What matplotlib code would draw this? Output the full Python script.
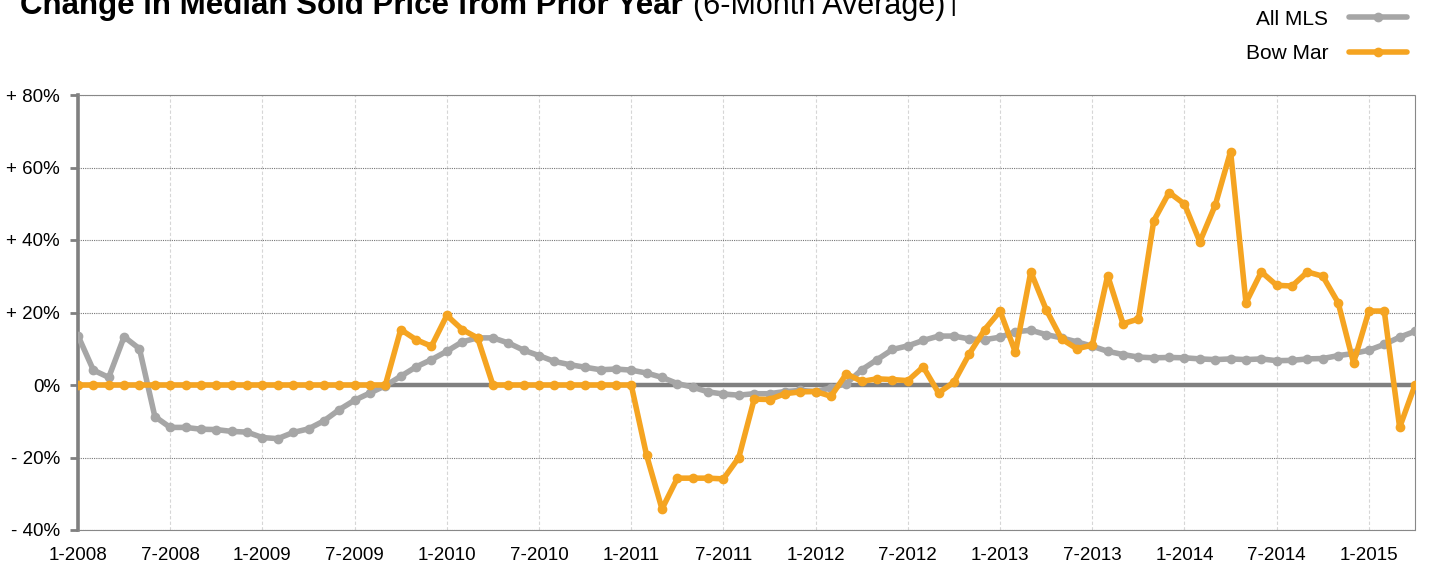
import matplotlib
matplotlib.use("Agg")
from matplotlib import pyplot as plt

plt.rcParams["font.family"] = ["Liberation Sans", "DejaVu Sans"]

# monthly data, 1-2008 .. 4-2015
all_mls = [13.6, 4.1, 2.1, 13.3, 10.0, -8.7, -11.7, -11.7, -12.2, -12.3,
           -12.8, -13.0, -14.5, -14.8, -13.1, -12.1, -9.9, -6.8, -4.2, -2.2,
           -0.2, 2.4, 5.0, 7.0, 9.3, 11.9, 13.0, 13.0, 11.6, 9.6,
           8.1, 6.5, 5.6, 4.9, 4.2, 4.4, 4.1, 3.3, 2.1, 0.4,
           -0.6, -1.9, -2.5, -2.8, -2.4, -2.4, -1.8, -1.5, -1.8, -0.8,
           0.4, 4.2, 7.0, 9.8, 10.8, 12.3, 13.5, 13.5, 12.7, 12.5,
           13.2, 14.7, 15.1, 13.9, 13.0, 11.9, 10.7, 9.3, 8.4, 7.7,
           7.5, 7.6, 7.5, 7.2, 7.0, 7.2, 7.0, 7.2, 6.7, 6.8,
           7.2, 7.3, 8.1, 8.7, 9.6, 11.2, 13.2, 14.8]
bow_mar = [0] * 21 + [15.3, 12.5, 10.7, 19.2, 15.3, 13.0, 0, 0, 0,
           0, 0, 0, 0, 0, 0, 0, -19.4, -34.2, -25.7,
           -25.7, -25.7, -25.9, -20.0, -3.9, -4.0, -2.4, -1.9, -1.8, -3.1,
           3.1, 1.0, 1.7, 1.5, 1.2, 5.0, -2.2, 0.8, 8.6, 15.3,
           20.4, 9.0, 31.2, 20.8, 12.7, 10.0, 11.0, 30.2, 16.9, 18.2,
           45.3, 53.1, 49.9, 39.5, 49.6, 64.4, 22.7, 31.2, 27.5, 27.3,
           31.2, 30.0, 22.7, 6.1, 20.4, 20.4, -11.7, 0]
months = list(range(len(all_mls)))
tick_labels = ["1-2008", "7-2008", "1-2009", "7-2009", "1-2010", "7-2010",
               "1-2011", "7-2011", "1-2012", "7-2012", "1-2013", "7-2013",
               "1-2014", "7-2014", "1-2015"]
y_ticks = [-40, -20, 0, 20, 40, 60, 80]
y_labels = ["- 40%", "- 20%", "0%", "+ 20%", "+ 40%", "+ 60%", "+ 80%"]

gray = "#a6a6a6"
orange = "#f5a421"

fig = plt.figure(figsize=(14.29, 5.63), dpi=100)
ax = fig.add_axes([78 / 1429, 33 / 563, (1415 - 78) / 1429, (530 - 95) / 563])

ax.axhline(0, color="#808080", lw=3.2, zorder=2)
ax.plot(months, all_mls, color=gray, lw=4, marker="o", ms=6,
        solid_capstyle="round", zorder=3, label="All MLS")
ax.plot(months, bow_mar, color=orange, lw=4, marker="o", ms=6,
        solid_capstyle="round", zorder=4, label="Bow Mar")

ax.set_xlim(0, len(months) - 1)
ax.set_ylim(-40, 80)
ax.set_xticks(range(0, 6 * len(tick_labels), 6))
ax.set_xticklabels(tick_labels, fontsize=13.5)
ax.set_yticks(y_ticks)
ax.set_yticklabels(y_labels, fontsize=13.5)

ax.grid(axis="y", color="#777777", ls=(0, (1, 1)), lw=0.8)
ax.grid(axis="x", color="#d6d6d6", ls=(0, (3, 2)), lw=0.8)
ax.set_axisbelow(True)

ax.tick_params(axis="y", length=6, width=2, color="#808080", pad=7, direction="out")
ax.tick_params(axis="x", length=0, pad=12)
ax.spines["left"].set_color("#808080")
ax.spines["left"].set_linewidth(2.6)
for s in ["top", "right", "bottom"]:
    ax.spines[s].set_color("#888888")
    ax.spines[s].set_linestyle((0, (1, 1)))
    ax.spines[s].set_linewidth(0.8)

# title, partly cut off at the top
t1 = fig.text(20 / 1429, 1 - 14 / 563, "Change in Median Sold Price from Prior Year",
              fontsize=22.5, fontweight="bold", va="baseline")
fig.canvas.draw()
bb = t1.get_window_extent()
fig.text(bb.x1 / 1429 + 10 / 1429, 1 - 14 / 563, "(6-Month Average)\u2020",
         fontsize=22, va="baseline")

fig.legend(loc="upper right", bbox_to_anchor=(1422 / 1429, 1 + 5 / 563), frameon=False,
           markerfirst=False, fontsize=15, handlelength=2.8, labelspacing=0.75,
           handletextpad=1.0, borderaxespad=0.3)

plt.savefig("out.png", dpi=100)
